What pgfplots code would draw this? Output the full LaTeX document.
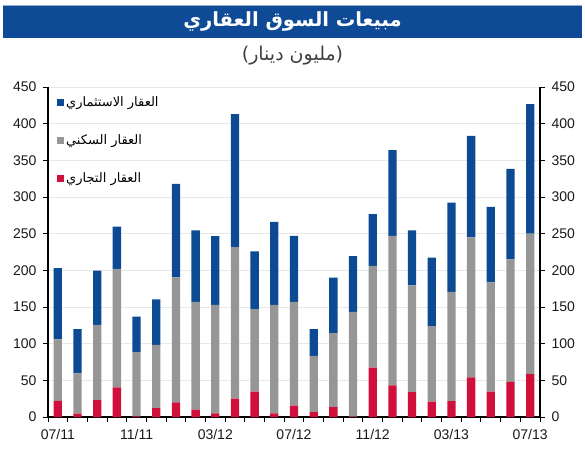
\documentclass[border=0pt]{standalone}
\usepackage{fontspec}
\usepackage{pgfplots}
\pgfplotsset{compat=1.18}
\usepackage{pgfplotstable}
\setmainfont{Liberation Sans}
\newfontfamily\arabicfont[Script=Arabic]{DejaVu Sans}
\TeXXeTstate=1

\definecolor{barblue}{RGB}{12,74,148}
\definecolor{bargray}{RGB}{150,150,150}
\definecolor{barred}{RGB}{208,16,58}
\definecolor{titleblue}{RGB}{14,74,150}
\definecolor{gridgray}{RGB}{232,232,232}

% monthly sales (million dinars): commercial, residential, investment
\pgfplotstableread{
idx red gray blue
0 22 84 97
1 4.5 55 60.5
2 23 102.5 74
3 40.5 161.5 57.5
4 0.8 87.7 48.5
5 12 86.5 62
6 20 170.5 127.5
7 10 147 97.5
8 5 148 93.5
9 25 206.5 181.5
10 34.5 112.5 79
11 5 148 113
12 15.5 141.5 90
13 6.5 77 36.5
14 13.5 101 75.5
15 0.5 143 76
16 67.5 138.5 70.5
17 43 204 117
18 34 145.5 75
19 21 103 93.5
20 21.5 149 122
21 54 191 138.5
22 34.5 149 103
23 48 167 123.5
24 58.5 191.5 176.5
}\sales

\pgfplotsset{
  common/.style={
    at={(48pt,33pt)}, anchor=south west,
    scale only axis, width=492pt, height=330pt,
    xmin=-0.5, xmax=24.5, ymin=0, ymax=450,
    ytick={0,50,...,450},
    tick align=outside,
    major tick length=4.5pt,
    axis line style={black, line width=1.3pt},
    tick style={black, line width=1pt},
    tick label style={font=\fontsize{14}{14}\selectfont, text=black!90},
    /pgf/number format/assume math mode=true,
  },
}

\begin{document}
\begin{tikzpicture}
\path[use as bounding box] (0,0) rectangle (585pt,450pt);

% heading
\fill[titleblue] (3pt,412pt) rectangle (582pt,445pt);
\draw[titleblue!45, line width=0.8pt] (3pt,445pt) -- (582pt,445pt);
\node[text=white, font=\fontsize{19.5}{20}\selectfont\arabicfont\bfseries]
  at (292.5pt,428.5pt) {\beginR مبيعات السوق العقاري\endR};
\node[text=black!75, font=\fontsize{19}{19}\selectfont\arabicfont]
  at (292.5pt,394pt) {\beginR(مليون دينار)\endR};

\begin{axis}[
  common,
  ybar stacked, bar width=8.3pt,
  axis x line*=bottom, axis y line*=left,
  yticklabel style={xshift=-3.5pt},
  ymajorgrids,
  major grid style={gridgray, line width=0.8pt},
  xtick={-0.5,0.5,...,24.5}, xticklabels={},
  extra x ticks={0,4,...,24},
  extra x tick labels={07/11,11/11,03/12,07/12,11/12,03/13,07/13},
  extra x tick style={tick style={draw=none}, grid=none,
    xticklabel style={yshift=-4pt}},
  legend style={at={(0.012,0.983)}, anchor=north west, draw=none, fill=none,
    font=\fontsize{13}{13}\selectfont\arabicfont, row sep=22.5pt,
    nodes={inner xsep=2pt}},
  legend cell align=left,
  reverse legend,
  legend image code/.code={\fill[#1] (0pt,-3.5pt) rectangle (7pt,3.5pt);},
]
\addplot[fill=barred, draw=none] table[x=idx, y=red] {\sales};
\addlegendentry{\beginR العقار التجاري\endR}
\addplot[fill=bargray, draw=none] table[x=idx, y=gray] {\sales};
\addlegendentry{\beginR العقار السكني\endR}
\addplot[fill=barblue, draw=none] table[x=idx, y=blue] {\sales};
\addlegendentry{\beginR العقار الاستثماري\endR}
\end{axis}

\begin{axis}[
  common,
  axis x line=none, axis y line*=right,
  yticklabel style={xshift=3.5pt},
]
\addplot[draw=none] coordinates {(0,0)};
\end{axis}
\end{tikzpicture}
\end{document}
